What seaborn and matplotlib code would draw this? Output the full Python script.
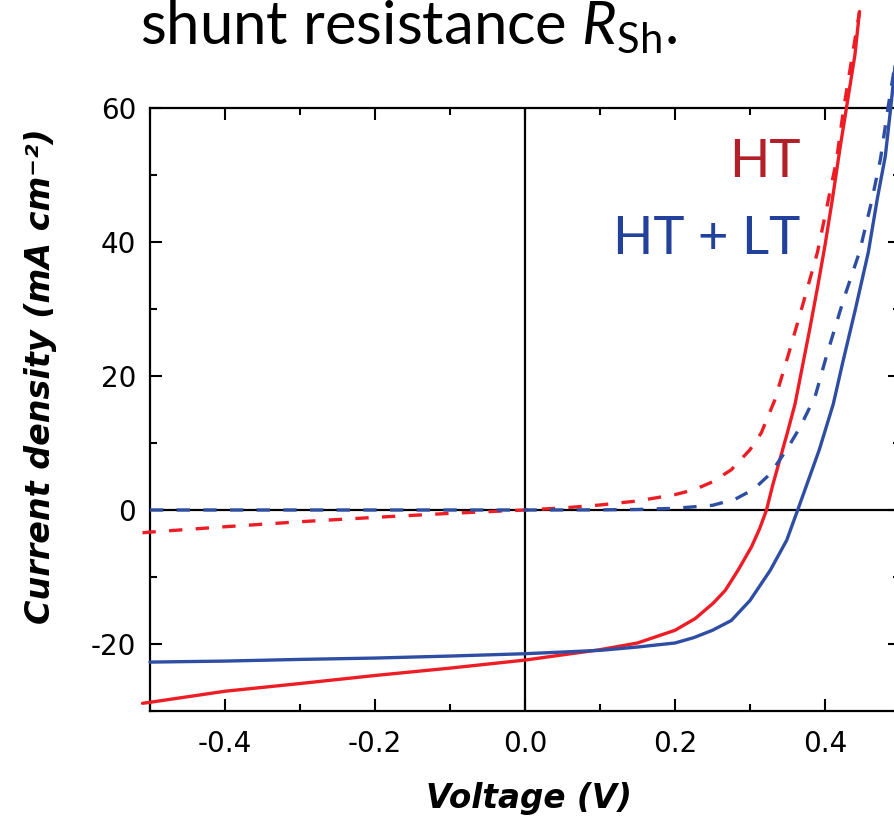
import matplotlib
matplotlib.use('Agg')
import matplotlib.pyplot as plt
import pandas as pd
import seaborn as sns
from matplotlib.ticker import MultipleLocator, FormatStrFormatter

# J-V curves (V in volts, J in mA/cm2)
ht_light_v = [-0.51, -0.5, -0.4, -0.3, -0.2, -0.1, 0.0, 0.1, 0.15, 0.2, 0.227, 0.251, 0.267,
              0.284, 0.302, 0.313, 0.322, 0.33, 0.34, 0.35, 0.36, 0.37, 0.38, 0.39, 0.40,
              0.41, 0.42, 0.43, 0.44, 0.446]
ht_light_j = [-28.85, -28.7, -27.05, -25.9, -24.7, -23.6, -22.4, -20.85, -19.85, -17.95, -16.2,
              -13.9, -12.0, -9.0, -5.5, -2.75, 0.0, 3.6, 7.6, 11.6, 15.8, 21.5, 27.2, 33.2,
              39.5, 46.5, 54.0, 61.0, 68.0, 74.4]

ht_dark_v = [-0.51, -0.5, -0.4, -0.3, -0.2, -0.1, 0.0, 0.05, 0.1, 0.15, 0.2, 0.225, 0.25, 0.275,
             0.3, 0.315, 0.333, 0.352, 0.37, 0.39, 0.415, 0.425, 0.446]
ht_dark_j = [-3.4, -3.3, -2.5, -1.75, -1.1, -0.5, 0.0, 0.3, 0.75, 1.35, 2.3, 3.0, 4.2, 6.0,
             9.0, 11.5, 16.4, 23.5, 30.5, 38.5, 52.0, 60.0, 74.4]

htlt_light_v = [-0.5, -0.4, -0.3, -0.2, -0.1, 0.0, 0.1, 0.15, 0.2, 0.225, 0.25, 0.275, 0.3,
                0.327, 0.349, 0.3636, 0.3924, 0.411, 0.4236, 0.4406, 0.4578, 0.4698, 0.4804,
                0.4876, 0.494]
htlt_light_j = [-22.7, -22.55, -22.3, -22.1, -21.8, -21.45, -20.95, -20.45, -19.85, -19.05,
                -17.95, -16.5, -13.5, -9.0, -4.5, 0.0, 9.0, 15.8, 22.0, 30.0, 38.5, 46.5,
                52.8, 60.0, 67.0]

htlt_dark_v = [-0.5, -0.3, -0.1, 0.0, 0.1, 0.15, 0.2, 0.25, 0.28, 0.305, 0.327, 0.35, 0.367,
               0.387, 0.402, 0.425, 0.446, 0.462, 0.474, 0.484, 0.494]
htlt_dark_j = [0.0, 0.0, 0.0, 0.0, 0.02, 0.08, 0.25, 0.7, 1.6, 3.1, 5.4, 9.2, 12.4, 17.0,
               23.0, 31.5, 38.5, 46.0, 52.4, 60.0, 67.0]

x_ticks = [-0.4, -0.2, 0.0, 0.2, 0.4]
y_ticks = [-20, 0, 20, 40, 60]

red = '#ee1d25'
blue = '#2e4ea3'

sns.set_style('ticks')
plt.rcParams['font.family'] = ['DejaVu Sans']
plt.rcParams['axes.unicode_minus'] = False
plt.rcParams['text.color'] = 'black'
plt.rcParams['axes.labelcolor'] = 'black'
plt.rcParams['xtick.color'] = 'black'
plt.rcParams['ytick.color'] = 'black'
plt.rcParams['mathtext.fontset'] = 'custom'
plt.rcParams['mathtext.rm'] = 'Lato'
plt.rcParams['mathtext.it'] = 'Lato:italic'

frames = []
for name, cond, v, j in [('HT', 'light', ht_light_v, ht_light_j),
                         ('HT', 'dark', ht_dark_v, ht_dark_j),
                         ('HT + LT', 'light', htlt_light_v, htlt_light_j),
                         ('HT + LT', 'dark', htlt_dark_v, htlt_dark_j)]:
    frames.append(pd.DataFrame({'V': v, 'J': j, 'sample': name, 'cond': cond}))
df = pd.concat(frames, ignore_index=True)

fig = plt.figure(figsize=(8.94, 8.22), dpi=100)
ax = fig.add_axes([150 / 894, 111 / 822, 750 / 894, 603 / 822])

# zero lines
ax.axhline(0, color='black', lw=1.6, zorder=1)
ax.axvline(0, color='black', lw=1.6, zorder=1)

sns.lineplot(data=df, x='V', y='J', hue='sample', style='cond',
             palette={'HT': red, 'HT + LT': blue},
             dashes={'light': '', 'dark': (4, 4)},
             estimator=None, sort=False, legend=False, linewidth=2.4,
             clip_on=False, zorder=3, ax=ax)

ax.set_xlim(-0.5, 0.5)
ax.set_ylim(-30, 60)
ax.set_xticks(x_ticks)
ax.set_yticks(y_ticks)
ax.xaxis.set_major_formatter(FormatStrFormatter('%.1f'))
ax.xaxis.set_minor_locator(MultipleLocator(0.1))
ax.yaxis.set_minor_locator(MultipleLocator(10))
ax.tick_params(which='both', direction='in', top=True, right=True, width=1.5, color='black')
ax.tick_params(which='major', length=8.6, labelsize=20)
ax.tick_params(which='minor', length=5)
ax.tick_params(axis='y', pad=10)
ax.tick_params(axis='x', pad=14)
for s in ax.spines.values():
    s.set_linewidth(1.6)
    s.set_color('black')

ax.set_xlabel('Voltage (V)', fontsize=23.5, fontweight='bold', fontstyle='italic')
ax.set_ylabel('Current density (mA cm\u207b\u00b2)', fontsize=24, fontweight='bold',
              fontstyle='italic')
ax.xaxis.set_label_coords(0.505, -0.118)
ax.yaxis.set_label_coords(-0.124, 0.556)

ax.text(0.3676, 49.7, 'HT', color='#b3202a', fontsize=38, family='Lato',
        ha='right', va='baseline')
ax.text(0.3676, 38.2, 'HT + LT', color='#22419a', fontsize=38, family='Lato',
        ha='right', va='baseline')

fig.text(140 / 894, 1 - 45 / 822, r'shunt resistance $R_{\mathrm{Sh}}$.', fontsize=43,
         family='Lato', ha='left', va='baseline')

fig.savefig('out.png', dpi=100)
